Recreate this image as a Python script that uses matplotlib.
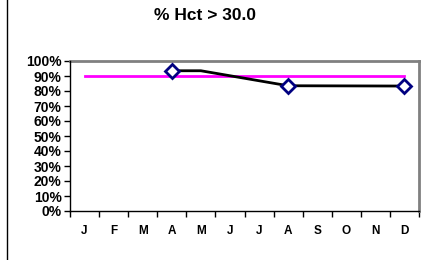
import numpy as np
import matplotlib.pyplot as plt
from matplotlib.lines import Line2D

months = ['J', 'F', 'M', 'A', 'M', 'J', 'J', 'A', 'S', 'O', 'N', 'D']
hct_pct = [np.nan, np.nan, np.nan, 93.5, 93.5, np.nan, np.nan, 83.5, np.nan, np.nan, np.nan, 83.3]
has_marker = [False, False, False, True, False, False, False, True, False, False, False, True]
target = [90] * 12

plt.rcParams['font.family'] = ['Liberation Sans', 'DejaVu Sans']

fig = plt.figure(figsize=(4.28, 2.6), dpi=100)
ax = fig.add_axes([70 / 428, 49 / 260, 349 / 428, 150 / 260])

x = np.arange(len(months))
vals = np.array(hct_pct, dtype=float)
ok = ~np.isnan(vals)

ax.plot(x, target, color='#FF00FF', linewidth=2, zorder=2)
ax.plot(x[ok], vals[ok], color='black', linewidth=2, zorder=3)
mk = np.array(has_marker)
ax.plot(x[mk], vals[mk], linestyle='none', marker='D', markersize=7,
        markerfacecolor='white', markeredgecolor='#000080', markeredgewidth=2, zorder=4)

ax.set_xlim(-0.5, 11.5)
ax.set_ylim(0, 100)
ax.set_yticks(np.arange(0, 101, 10))
ax.set_yticklabels([f'{v}%' for v in range(0, 101, 10)], fontsize=10, fontweight='bold')
ax.tick_params(axis='y', direction='out', length=4, width=1, pad=2)

ax.set_xticks(x)
ax.set_xticklabels(months, fontsize=8.5, fontweight='bold')
ax.set_xticks(np.arange(-0.5, 12, 1), minor=True)
ax.tick_params(axis='x', which='major', length=0, pad=10)
ax.tick_params(axis='x', which='minor', direction='out', length=4, width=1)

for s in ['top', 'right']:
    ax.spines[s].set_color('#808080')
    ax.spines[s].set_linewidth(2)
for s in ['left', 'bottom']:
    ax.spines[s].set_color('black')
    ax.spines[s].set_linewidth(1)
    ax.spines[s].set_zorder(5)

fig.text(205 / 428, 1 - 15 / 260, '% Hct > 30.0', ha='center', va='center',
         fontsize=12.5, fontweight='bold')
fig.add_artist(Line2D([6.5 / 428, 6.5 / 428], [0, 1], color='black', linewidth=1))

fig.savefig('out.png', dpi=100)
